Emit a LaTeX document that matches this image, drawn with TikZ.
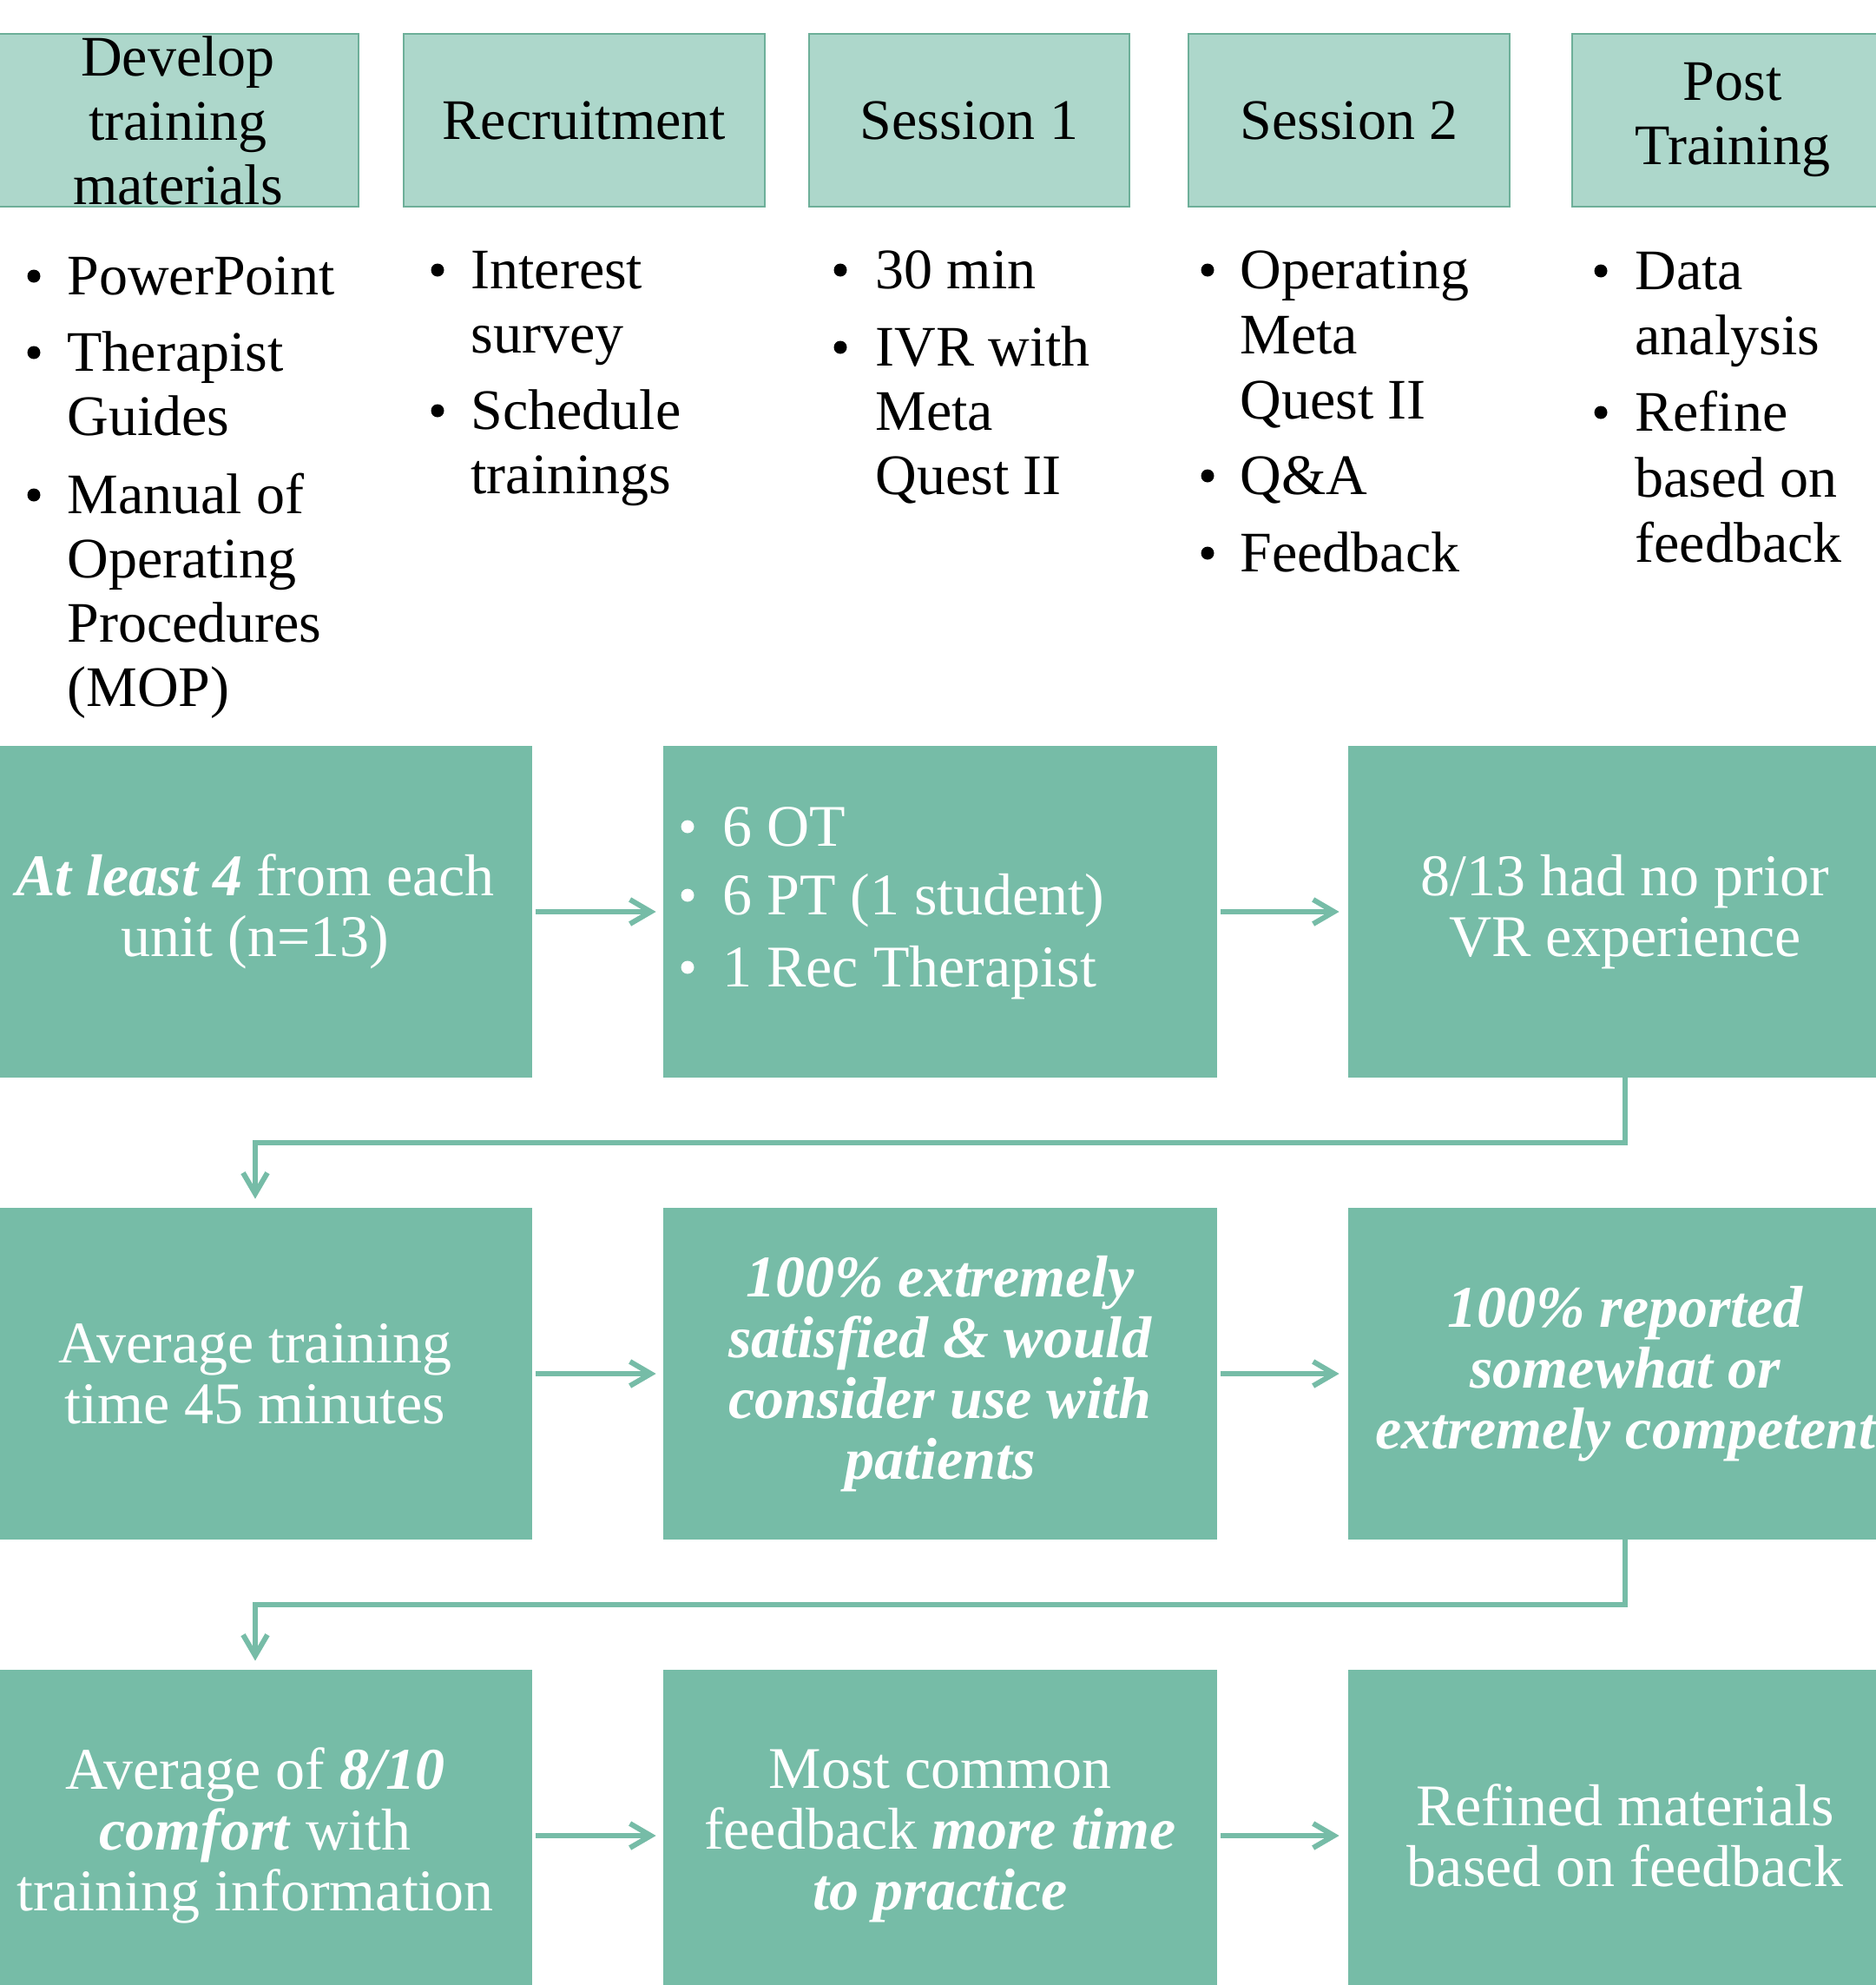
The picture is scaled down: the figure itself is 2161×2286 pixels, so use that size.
\documentclass[tikz,border=0pt]{standalone}
\usepackage{fontspec}
\setmainfont{Liberation Serif}
\usetikzlibrary{arrows.meta}
\definecolor{main}{HTML}{76BCA7}
\definecolor{hdr}{HTML}{ADD7CB}
\definecolor{hdrline}{HTML}{6DAF99}
\begin{document}
\begin{tikzpicture}[x=0.5pt,y=-0.5pt,
  hbox/.style={draw=hdrline, fill=hdr, line width=1.3pt, minimum height=99.5pt, inner sep=0pt},
  htext/.style={inner sep=0pt, align=center, text=black, font=\fontsize{33}{37}\selectfont},
  gbox/.style={fill=main, minimum width=319pt, minimum height=191pt, inner sep=0pt, align=center, text=white, font=\fontsize{34}{35}\selectfont},
  bt/.style={anchor=base west, inner sep=0pt, text=black, font=\fontsize{33}{37}\selectfont},
  bb/.style={circle, fill=black, minimum size=7.5pt, inner sep=0pt},
  wt/.style={anchor=base west, inner sep=0pt, text=white, font=\fontsize{34}{35}\selectfont},
  wb/.style={circle, fill=white, minimum size=7.5pt, inner sep=0pt},
  arr/.style={draw=main, line width=3pt, -{Straight Barb[length=12pt,width=14pt]}}]
\useasboundingbox (0,0) rectangle (2161,2286);

% header boxes
\node[hbox, minimum width=208pt] (h1) at (205,138.5) {};
\node[hbox, minimum width=208pt] (h2) at (673,138.5) {};
\node[hbox, minimum width=184.5pt] (h3) at (1116.5,138.5) {};
\node[hbox, minimum width=185pt] (h4) at (1554,138.5) {};
\node[hbox, minimum width=184.5pt] (h5) at (1995.5,138.5) {};
\node[htext] (h1t) at (h1) {Develop\\training\\materials};
\node[htext] (h2t) at (h2) {Recruitment};
\node[htext] (h3t) at (h3) {Session 1};
\node[htext] (h4t) at (h4) {Session 2};
\node[htext] (h5t) at (h5) {Post\\Training};

% bullet lists under the headers (bullet centre 21px above the baseline)
\foreach \x/\y [count=\i] in {39/318, 39/406, 39/570, 504/311, 504/473, 968/311, 968/400,
    1391/311, 1391/548, 1391/637, 1844/312, 1844/475}
  \node[bb] (u\i) at (\x,\y) {};
\foreach \x/\y/\t [count=\i] in {77/339/PowerPoint, 77/427/Therapist, 77/501/Guides,
    77/591/Manual of, 77/665/Operating, 77/739/Procedures, 77/813/(MOP),
    542/332/Interest, 542/406/survey, 542/494/Schedule, 542/568/trainings,
    1008/332/30 min, 1008/421/IVR with, 1008/495/Meta, 1008/569/Quest II,
    1428/332/Operating, 1428/407/Meta, 1428/482/Quest II, 1428/569/Q\&A, 1428/658/Feedback,
    1883/333/Data, 1883/408/analysis, 1883/496/Refine, 1883/572/based on, 1883/647/feedback}
  \node[bt] (t\i) at (\x,\y) {\t};

% row 1
\node[gbox] (a1) at (294,1050) {\textbf{\textit{At least 4}} from each\\unit (n=13)};
\node[gbox] (b1) at (1083,1050) {};
\node[gbox] (c1) at (1872,1050) {8/13 had no prior\\VR experience};
\node[wb] (w1) at (792,952) {};
\node[wb] (w2) at (792,1031) {};
\node[wb] (w3) at (792,1114) {};
\node[wt] (w1t) at (832,974) {6 OT};
\node[wt] (w2t) at (832,1053) {6 PT (1 student)};
\node[wt] (w3t) at (832,1136) {1 Rec Therapist};

% row 2
\node[gbox] (a2) at (294,1582) {Average training\\time 45 minutes};
\node[gbox, font=\fontsize{34}{35}\selectfont\bfseries\itshape] (b2) at (1083,1582) {100\% extremely\\satisfied \& would\\consider use with\\patients};
\node[gbox, font=\fontsize{34}{35}\selectfont\bfseries\itshape] (c2) at (1872,1582) {100\% reported\\somewhat or\\extremely competent};

% row 3
\node[gbox] (a3) at (294,2114) {Average of \textbf{\textit{8/10}}\\\textbf{\textit{comfort}} with\\training information};
\node[gbox] (b3) at (1083,2114) {Most common\\feedback \textbf{\textit{more time}}\\\textbf{\textit{to practice}}};
\node[gbox] (c3) at (1872,2114) {Refined materials\\based on feedback};

% connectors
\draw[arr, shorten <=2pt, shorten >=4pt] (a1) -- (b1);
\draw[arr, shorten <=2pt, shorten >=5pt] (b1) -- (c1);
\draw[arr, shorten >=5pt] (c1.south) -- ++(0,75) -| (a2.north);
\draw[arr, shorten <=2pt, shorten >=4pt] (a2) -- (b2);
\draw[arr, shorten <=2pt, shorten >=5pt] (b2) -- (c2);
\draw[arr, shorten >=5pt] (c2.south) -- ++(0,75) -| (a3.north);
\draw[arr, shorten <=2pt, shorten >=4pt] (a3) -- (b3);
\draw[arr, shorten <=2pt, shorten >=5pt] (b3) -- (c3);
\end{tikzpicture}
\end{document}
